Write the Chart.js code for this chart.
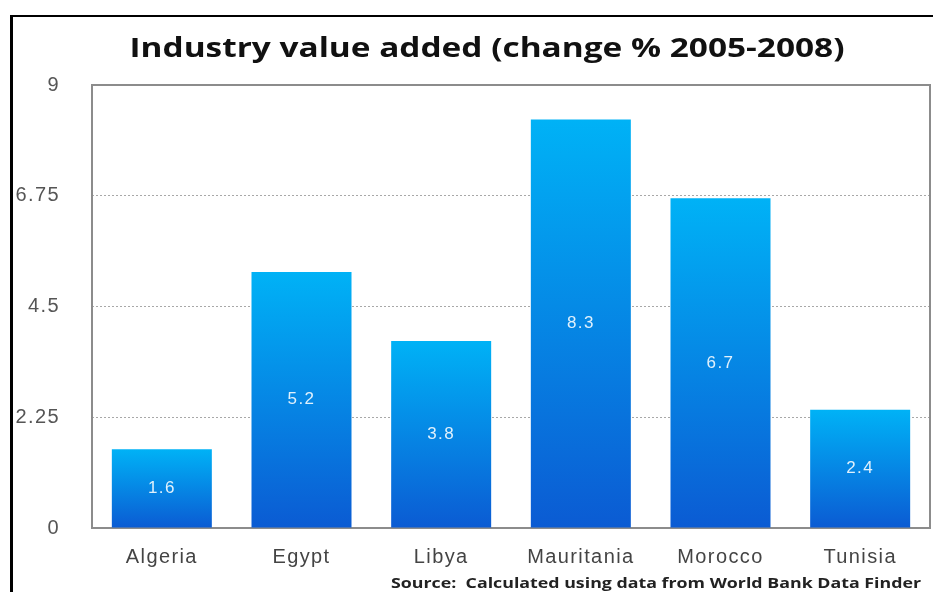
<!DOCTYPE html>
<html>
<head>
<meta charset="utf-8">
<script src="https://cdn.jsdelivr.net/npm/chart.js@4.4.1/dist/chart.umd.min.js"></script>
<style>
  html, body { margin: 0; padding: 0; background: #fff; }
  #wrap { position: relative; width: 933px; height: 592px; overflow: hidden; }
  #frame { position: absolute; left: 10px; top: 15px; width: 960px; height: 640px;
           border-left: 3px solid #000; border-top: 2px solid #000; }
  canvas { position: absolute; left: 0; top: 0; }
</style>
</head>
<body>
<div id="wrap">
  <div id="frame"></div>
  <canvas id="industryChart" width="933" height="592"></canvas>
</div>
<script>
// Chart data
const countries = ['Algeria', 'Egypt', 'Libya', 'Mauritania', 'Morocco', 'Tunisia'];
const changeValues = [1.6, 5.2, 3.8, 8.3, 6.7, 2.4];
const yTicks = [0, 2.25, 4.5, 6.75, 9];
const titleText = 'Industry value added (change % 2005-2008)';
const sourceText = 'Source:  Calculated using data from World Bank Data Finder';

// gradient per bar, light on top, dark blue at the base
function barGradient(context) {
    const chart = context.chart;
    const yScale = chart.scales.y;
    if (!chart.chartArea || !yScale || context.dataIndex === undefined) return '#0a8ae6';
    const top = yScale.getPixelForValue(changeValues[context.dataIndex]);
    const bottom = yScale.getPixelForValue(0);
    const g = chart.ctx.createLinearGradient(0, top, 0, bottom);
    g.addColorStop(0, '#00b2f6');
    g.addColorStop(1, '#0b5bd3');
    return g;
}

// draws text stretched horizontally to a target width (the original text is wide)
function stretchedText(ctx, text, x, y, width, align) {
    const w = ctx.measureText(text).width;
    const sx = width / w;
    ctx.save();
    ctx.translate(x, y);
    ctx.scale(sx, 1);
    ctx.textAlign = align;
    ctx.fillText(text, 0, 0);
    ctx.restore();
}

// frame, title, source and value labels
const decorPlugin = {
    id: 'decor',
    beforeDraw(chart) {
        // wider spacing for the Helvetica-like axis text
        chart.ctx.letterSpacing = '1.4px';
    },
    beforeDatasetsDraw(chart) {
        const { ctx, chartArea: a } = chart;
        ctx.save();
        ctx.strokeStyle = '#8c8c8c';
        ctx.lineWidth = 2;
        ctx.strokeRect(a.left, a.top, a.right - a.left, a.bottom - a.top);
        ctx.restore();
    },
    afterDatasetsDraw(chart) {
        const { ctx } = chart;
        const meta = chart.getDatasetMeta(0);
        ctx.save();
        ctx.fillStyle = 'rgba(255,255,255,0.88)';
        ctx.font = '17px "Liberation Sans"';
        ctx.textAlign = 'center';
        ctx.textBaseline = 'middle';
        meta.data.forEach((bar, i) => {
            ctx.fillText(String(changeValues[i]), bar.x, (bar.y + bar.base) / 2);
        });
        ctx.restore();
    },
    afterDraw(chart) {
        const { ctx } = chart;
        ctx.save();
        ctx.letterSpacing = '0px';
        ctx.textBaseline = 'alphabetic';
        ctx.fillStyle = '#111';
        ctx.font = '700 26px "Open Sans"';
        stretchedText(ctx, titleText, 487, 57, 715, 'center');
        ctx.fillStyle = '#222';
        ctx.font = '700 15px "Open Sans"';
        stretchedText(ctx, sourceText, 921, 588, 530, 'right');
        ctx.restore();
    }
};

new Chart(document.getElementById('industryChart'), {
    type: 'bar',
    data: {
        labels: countries,
        datasets: [{
            label: 'Change %',
            data: changeValues,
            backgroundColor: barGradient,
            borderWidth: 0,
            barPercentage: 0.716,
            categoryPercentage: 1.0
        }]
    },
    options: {
        responsive: false,
        animation: false,
        layout: { padding: { top: 85, right: 3, bottom: 0, left: 0 } },
        plugins: {
            legend: { display: false },
            tooltip: { enabled: false },
            title: { display: false }
        },
        scales: {
            x: {
                grid: { display: false, drawTicks: false },
                border: { display: false },
                ticks: {
                    color: '#444',
                    font: { family: '"Liberation Sans"', size: 20 },
                    padding: 17
                },
                afterFit(scale) { scale.height = 64; }
            },
            y: {
                min: 0,
                max: 9,
                afterBuildTicks(scale) { scale.ticks = yTicks.map(v => ({ value: v })); },
                grid: {
                    drawTicks: false,
                    color: ctx => (ctx.tick && (ctx.tick.value === 0 || ctx.tick.value === 9)) ? 'rgba(0,0,0,0)' : '#a8a8a8',
                    lineWidth: 1
                },
                border: { display: false, dash: [2, 2] },
                ticks: {
                    color: '#555',
                    font: { family: '"Liberation Sans"', size: 20 },
                    padding: 32,
                    callback: v => String(v)
                },
                afterFit(scale) { scale.width = 92; }
            }
        }
    },
    plugins: [decorPlugin]
});
</script>
</body>
</html>
